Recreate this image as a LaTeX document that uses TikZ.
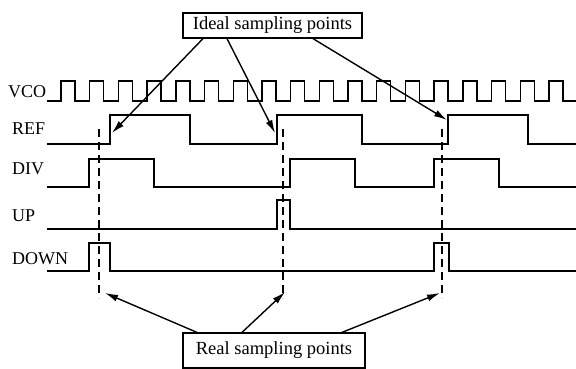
\documentclass[tikz,border=0pt]{standalone}
\usepackage{fontspec}
\setmainfont{Liberation Serif}
\usetikzlibrary{arrows.meta}
\begin{document}
\begin{tikzpicture}[x=1pt,y=-1pt,
  wave/.style={line width=1.4pt,line join=miter},
  samp/.style={line width=1.2pt,dash pattern=on 8pt off 5pt},
  ptr/.style={line width=1.4pt,-{Latex[length=13pt,width=7pt]}},
  lbl/.style={font=\fontsize{18}{18}\selectfont,anchor=west,inner sep=0pt},
  boxed/.style={draw,line width=1.2pt,font=\fontsize{18.5}{18.5}\selectfont,inner sep=0pt}]
\useasboundingbox (0,0) rectangle (576,369);
% labels
\node[lbl] (lvco) at (8,92) {VCO};
\node[lbl] (lref) at (12,129) {REF};
\node[lbl] (ldiv) at (12,169) {DIV};
\node[lbl] (lup) at (12,216) {UP};
\node[lbl] (ldown) at (12,259) {DOWN};
% VCO
\draw[wave] (47,101) \foreach \k in {0,...,17} { -- ({61+28.7*\k},101) -- ({61+28.7*\k},81) -- ({75+28.7*\k},81) -- ({75+28.7*\k},101) } -- (576,101);
% REF
\draw[wave] (47,144) -- (110,144) -- (110,115) -- (190,115) -- (190,144) -- (277,144) -- (277,115) -- (362,115) -- (362,144) -- (448,144) -- (448,115) -- (528,115) -- (528,144) -- (576,144);
% DIV
\draw[wave] (47,187) -- (89,187) -- (89,159) -- (154,159) -- (154,187) -- (290,187) -- (290,159) -- (355,159) -- (355,187) -- (434,187) -- (434,159) -- (499,159) -- (499,187) -- (576,187);
% UP
\draw[wave] (47,229) -- (277,229) -- (277,200) -- (290,200) -- (290,229) -- (576,229);
% DOWN
\draw[wave] (47,271) -- (89,271) -- (89,243) -- (110,243) -- (110,271) -- (434,271) -- (434,243) -- (449,243) -- (449,271) -- (576,271);
% dashed sampling lines
\coordinate (d1t) at (99,129); \coordinate (d1b) at (99,298);
\coordinate (d2t) at (283,129); \coordinate (d2b) at (283,298);
\coordinate (d3t) at (442,129); \coordinate (d3b) at (442,298);
\draw[samp] (d1t) -- (d1b);
\draw[samp] (d2t) -- (d2b);
\draw[samp] (d3t) -- (d3b);
% boxes
\node[boxed,minimum width=179pt,minimum height=25pt] (ideal) at (272.5,25.5) {Ideal sampling points};
\node[boxed,minimum width=182pt,minimum height=35pt] (real) at (274,350.5) {Real sampling points};
% ideal arrows
\coordinate (i1) at (ideal.south west -| 203,0);
\coordinate (i2) at (ideal.south west -| 227,0);
\coordinate (i3) at (ideal.south west -| 313,0);
\coordinate (t1) at (112,133);
\coordinate (t2) at (275,133);
\coordinate (t3) at (447,120);
\draw[ptr] (i1) -- (t1);
\draw[ptr] (i2) -- (t2);
\draw[ptr] (i3) -- (t3);
% real arrows
\coordinate (r1) at (real.north west -| 197,0);
\coordinate (r2) at (real.north west -| 242,0);
\coordinate (r3) at (real.north west -| 342,0);
\coordinate (b1) at (105,293);
\coordinate (b2) at (285,292);
\coordinate (b3) at (440,293);
\draw[ptr] (r1) -- (b1);
\draw[ptr] (r2) -- (b2);
\draw[ptr] (r3) -- (b3);
\end{tikzpicture}
\end{document}
